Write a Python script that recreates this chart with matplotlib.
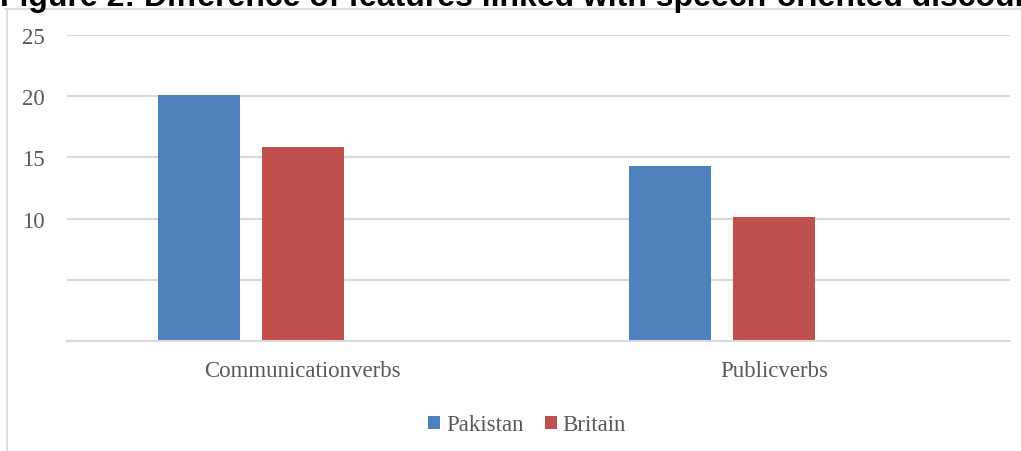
import matplotlib
matplotlib.use("Agg")
import matplotlib.pyplot as plt
from matplotlib.lines import Line2D
import numpy as np

categories = ["Communicationverbs", "Publicverbs"]
series = ["Pakistan", "Britain"]
pakistan = [20.1, 14.3]
britain = [15.85, 10.15]
yticks = [0, 5, 10, 15, 20, 25]
ytick_labels = ["", "", "10", "15", "20", "25"]
title = "Figure 2: Difference of features linked with speech-oriented discourse"

colors = ["#4F81BD", "#C0504D"]
grey_text = "#595959"
grid_col = "#D9D9D9"

W, H = 1021, 452
fig = plt.figure(figsize=(W / 100, H / 100), dpi=100)
ax = fig.add_axes([67 / W, 1 - 342 / H, 943 / W, 306 / H])

x = np.arange(len(categories))
width = 0.174
offsets = [-0.221, 0.0]
for vals, off, c, name in zip([pakistan, britain], offsets, colors, series):
    ax.bar(x + off, vals, width=width, color=c, label=name, zorder=3)

FS = 16.5
ax.set_xlim(-0.5, 1.5)
ax.set_ylim(0, 25)
ax.set_yticks(yticks)
ax.set_yticklabels(ytick_labels, fontfamily="Liberation Serif", fontsize=FS, color=grey_text)
ax.set_xticks(x)
ax.set_xticklabels(categories, fontfamily="Liberation Serif", fontsize=FS, color=grey_text)
ax.tick_params(axis="y", length=0, pad=15.8)
ax.tick_params(axis="x", length=0, pad=14)
ax.grid(axis="y", color=grid_col, linewidth=1.5, zorder=0)
for s in ["top", "right", "left"]:
    ax.spines[s].set_visible(False)
ax.spines["bottom"].set_color(grid_col)
ax.spines["bottom"].set_linewidth(1.5)
ax.spines["bottom"].set_zorder(4)

handles, labels = ax.get_legend_handles_labels()
leg = fig.legend(handles, labels, loc="center", bbox_to_anchor=(527 / W, 1 - 426 / H), ncol=2,
                 frameon=False, prop={"family": "Liberation Serif", "size": FS},
                 handlelength=0.52, handleheight=0.52, handletextpad=0.26, columnspacing=0.92)
for t in leg.get_texts():
    t.set_color(grey_text)

# outer chart border (top and left visible)
fig.add_artist(Line2D([5 / W, 1.0], [1 - 10 / H, 1 - 10 / H], transform=fig.transFigure, color=grid_col, linewidth=1.2))
fig.add_artist(Line2D([7 / W, 7 / W], [0, 1 - 10 / H], transform=fig.transFigure, color=grid_col, linewidth=1.2))

fig.text(0 / W, 1 - 6 / H, title, fontfamily="Liberation Sans", fontweight="bold", fontsize=23,
         color="black", ha="left", va="baseline")

fig.savefig("out.png", dpi=100)
